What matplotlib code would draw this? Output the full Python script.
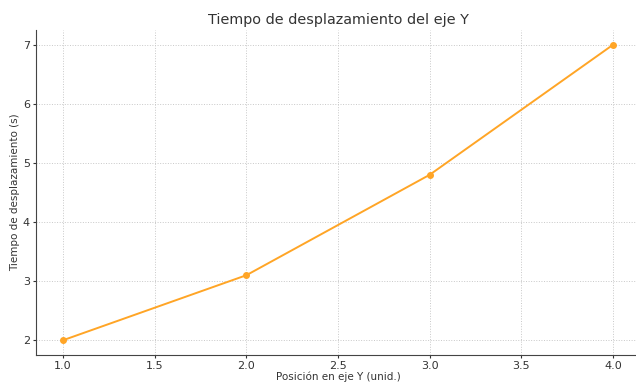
import matplotlib
matplotlib.use('Agg')
import matplotlib.pyplot as plt

# Data
posicion = [1.0, 2.0, 3.0, 4.0]
tiempo = [2.0, 3.1, 4.8, 7.0]

fig = plt.figure(figsize=(6.36, 3.85), dpi=100)
ax = fig.add_axes([0.056, 0.078, 0.951, 0.844])

ax.plot(posicion, tiempo, color='#FFA526', marker='o', markersize=4, linewidth=1.4)

ax.set_title('Tiempo de desplazamiento del eje Y', fontsize=10.4, color='#333333', pad=4)
ax.set_xlabel('Posición en eje Y (unid.)', fontsize=7.5, color='#333333', labelpad=1)
ax.set_ylabel('Tiempo de desplazamiento (s)', fontsize=7.5, color='#333333', labelpad=2)

ax.set_xticks([1.0, 1.5, 2.0, 2.5, 3.0, 3.5, 4.0])
ax.set_yticks([2, 3, 4, 5, 6, 7])
ax.tick_params(labelsize=8, colors='#333333', length=2.5, width=0.8, pad=1.5)

ax.grid(True, linestyle=':', color='#c8c8c8', linewidth=0.7)
for side in ['top', 'right']:
    ax.spines[side].set_visible(False)
for side in ['left', 'bottom']:
    ax.spines[side].set_color('#444444')

fig.savefig('out.png', dpi=100)
